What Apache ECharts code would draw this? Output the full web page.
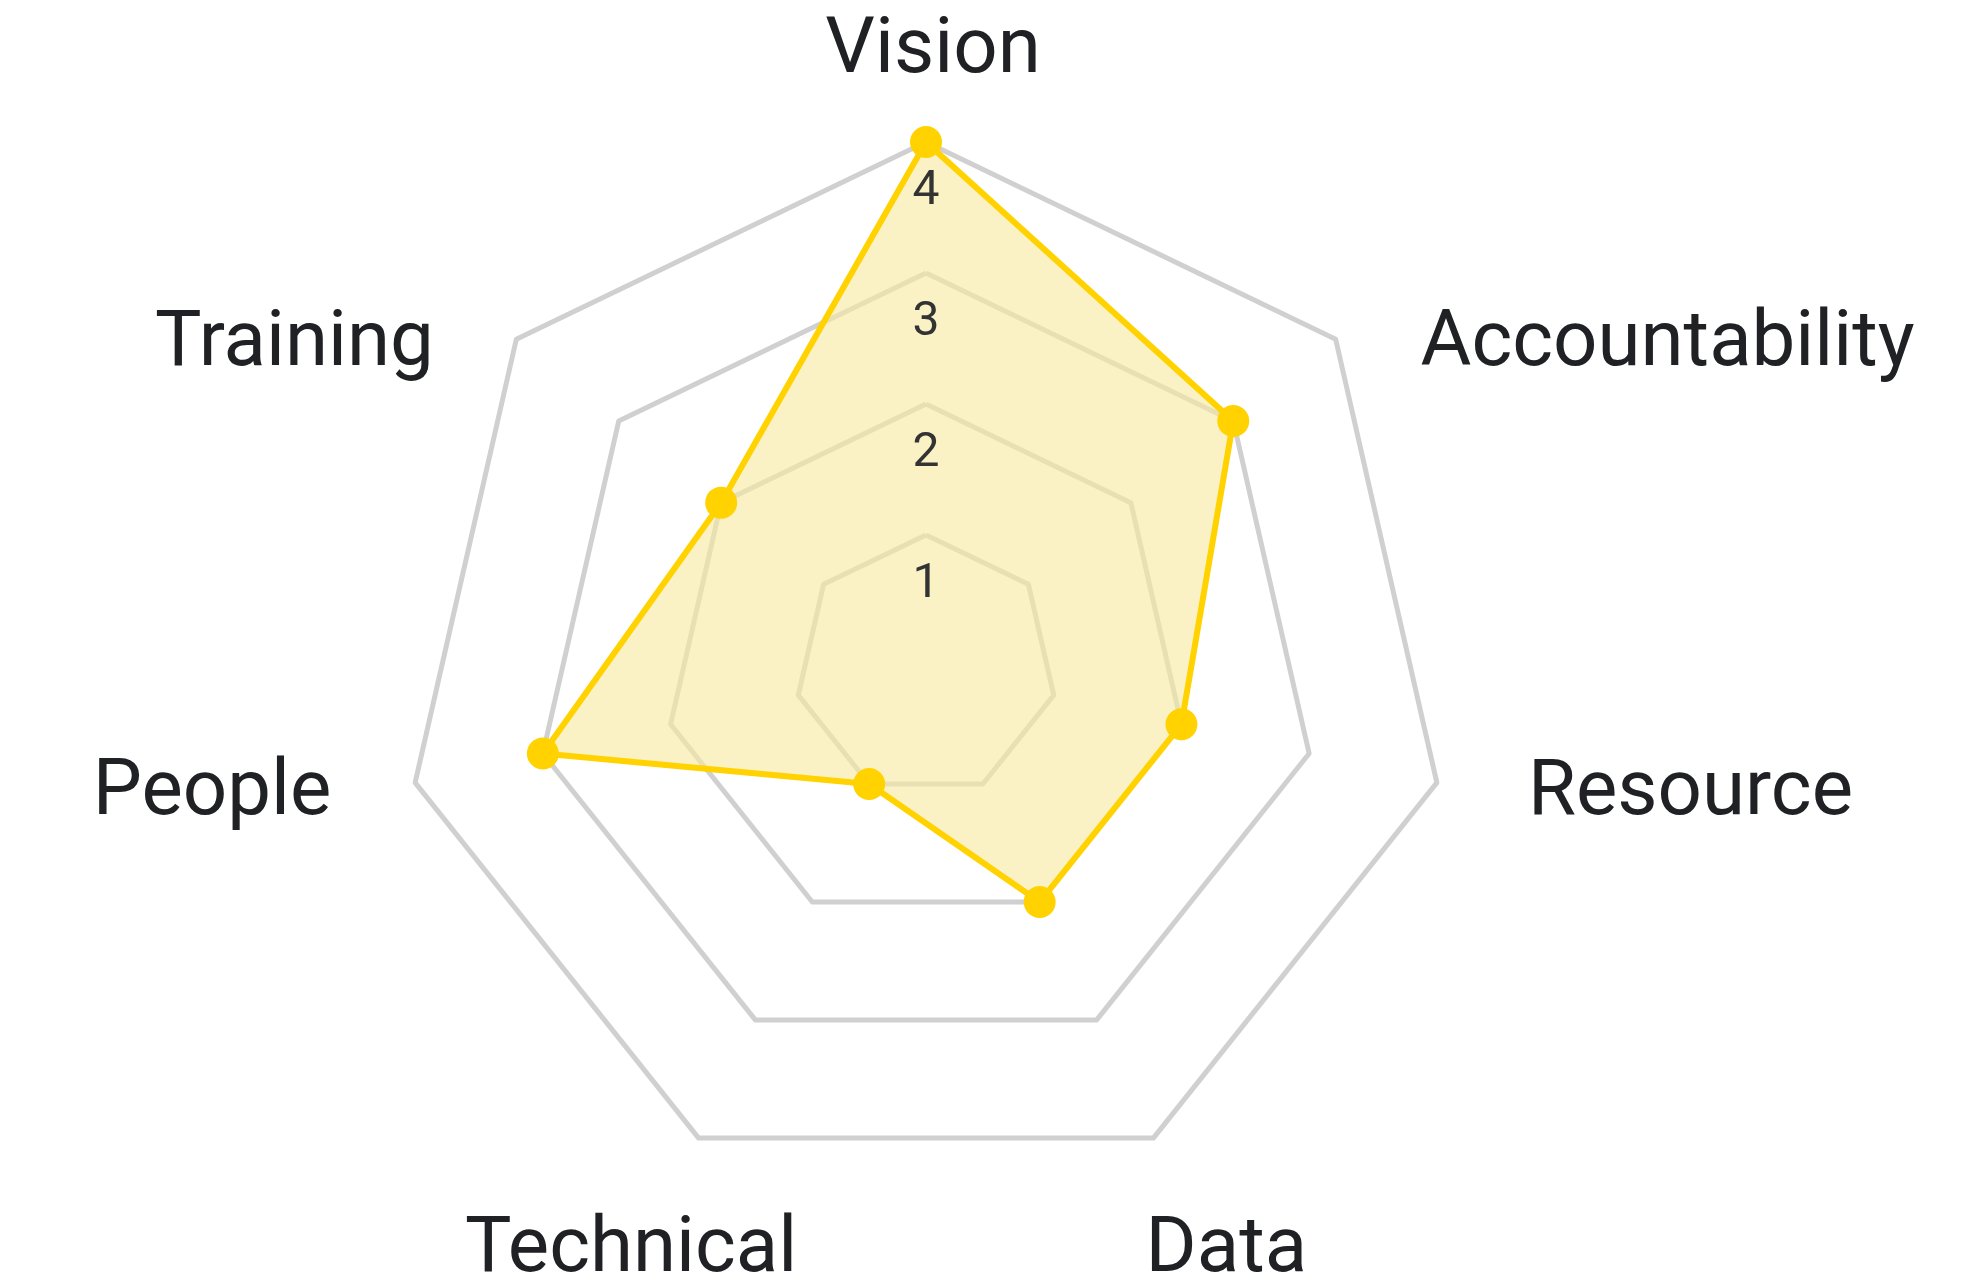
<!DOCTYPE html>
<html>
<head>
<meta charset="utf-8">
<script src="https://cdn.jsdelivr.net/npm/echarts@6/dist/echarts.min.js"></script>
<style>
html,body{margin:0;padding:0;background:#fff;}
#chart{width:1963px;height:1286px;}
</style>
</head>
<body>
<div id="chart"></div>
<script>
// Indicators listed in ECharts (counter-clockwise) order, starting at top
var categories = ['Vision', 'Training', 'People', 'Technical', 'Data', 'Resource', 'Accountability'];
var scores = [4, 2, 3, 1, 2, 2, 3];
var scaleMax = 4;
var tickLabels = ['', '1', '2', '3', '4'];

var nameStyleKey = {
  'Vision': 'vi', 'Training': 'tr', 'People': 'pe', 'Technical': 'te',
  'Data': 'da', 'Resource': 're', 'Accountability': 'ac'
};

var nameFont = {fontFamily: 'Roboto', fontSize: 78, color: '#202124'};
function ns(pad) { return Object.assign({padding: pad}, nameFont); }

var chart = echarts.init(document.getElementById('chart'), null, {renderer: 'canvas'});

// Grid radar (under the series)
var gridIndicator = categories.map(function (c) {
  return {name: c, max: scaleMax, min: 0};
});

// Label radar (same geometry, drawn above the series) carrying the tick labels
var labelIndicator = categories.map(function (c, i) {
  var o = {name: c, max: scaleMax, min: 0};
  if (i === 0) {
    o.axisLabel = {
      show: true,
      margin: 0,
      align: 'center',
      verticalAlign: 'top',
      formatter: function (v) {
        var t = tickLabels[Math.round(v)] || '';
        return t ? '{t|' + t + '}' : '';
      },
      rich: {
        t: {
          fontFamily: 'Roboto',
          fontSize: 48,
          lineHeight: 48,
          color: '#333333',
          padding: [52, 0, 0, 0]
        }
      }
    };
  }
  return o;
});

var common = {
  center: [926, 666],
  radius: 524,
  startAngle: 90,
  shape: 'polygon',
  splitNumber: 4
};

chart.setOption({
  backgroundColor: '#ffffff',
  animation: false,
  radar: [
    Object.assign({}, common, {
      z: 0,
      nameGap: 76,
      indicator: gridIndicator,
      axisName: {
        align: 'center',
        verticalAlign: 'middle',
        fontFamily: 'Roboto',
        fontSize: 78,
        color: '#202124',
        formatter: function (name) { return '{' + nameStyleKey[name] + '|' + name + '}'; },
        rich: {
          vi: ns([0, 0, 28, 14]),
          tr: ns([108, 325, 0, 0]),
          pe: ns([0, 258, 11, 0]),
          te: ns([90, 69, 0, 0]),
          da: ns([90, 0, 0, 80]),
          re: ns([0, 0, 11, 359]),
          ac: ns([108, 0, 0, 545])
        }
      },
      axisLine: {show: false},
      axisTick: {show: false},
      axisLabel: {show: false},
      splitArea: {show: false},
      splitLine: {
        show: true,
        lineStyle: {color: '#d0d0d0', width: 5, join: 'round'}
      }
    }),
    Object.assign({}, common, {
      z: 5,
      indicator: labelIndicator,
      axisName: {show: false},
      axisLine: {show: false},
      axisTick: {show: false},
      axisLabel: {show: false},
      splitArea: {show: false},
      splitLine: {show: false}
    })
  ],
  series: [
    {
      // filled area
      type: 'radar',
      radarIndex: 0,
      z: 2,
      symbol: 'none',
      lineStyle: {width: 0, opacity: 0},
      areaStyle: {color: 'rgb(247,234,160)', opacity: 0.62},
      silent: true,
      data: [{value: scores, name: 'Score'}]
    },
    {
      // outline and points
      type: 'radar',
      radarIndex: 0,
      z: 3,
      symbol: 'circle',
      symbolSize: 32,
      lineStyle: {color: '#FFD200', width: 6},
      itemStyle: {color: '#FFD200'},
      data: [{value: scores, name: 'Score'}]
    }
  ]
});
</script>
</body>
</html>
